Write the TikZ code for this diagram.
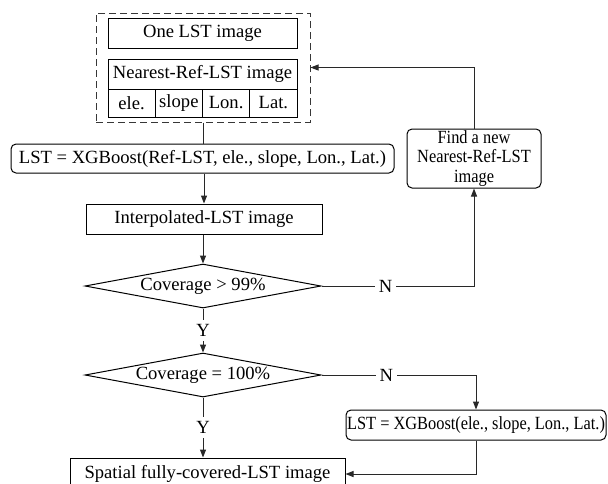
\documentclass[tikz,border=0pt]{standalone}
\usepackage{fontspec}
\setmainfont{Liberation Serif}
\usetikzlibrary{arrows.meta,positioning,shapes.geometric}
\definecolor{flowInk}{RGB}{0,0,0}
\definecolor{frameGrey}{RGB}{55,55,55}
\definecolor{wireGrey}{RGB}{40,40,40}
\newcommand{\narrowtxt}[1]{\scalebox{0.88}[1]{#1}}
\tikzset{
  box/.style={draw=flowInk,line width=.5pt,inner sep=0pt,minimum height=15pt,align=center},
  softbox/.style={box,rounded corners=2.5pt},
  decision/.style={draw=flowInk,line width=.5pt,diamond,inner sep=0pt,aspect=5.4,minimum width=118pt,minimum height=22pt},
  wire/.style={draw=wireGrey,line width=.5pt},
  flow/.style={wire,-{Triangle[length=4pt,width=3pt]}},
  lbl/.style={fill=white,inner sep=2pt},
}

\begin{document}
\begin{tikzpicture}[x=.5pt,y=-.5pt,font=\fontsize{9.3}{9.6}\selectfont]
  \useasboundingbox (0,0) rectangle (608,483);
  \node[draw=frameGrey,dash pattern=on 3.5pt off 2pt,line width=.5pt,minimum width=107pt,minimum height=54.5pt,inner sep=0pt] (frame) at (203,67.5) {};
  \node[box,minimum width=94.5pt] (one) at (202.5,33) {One LST image};
  \node[box,minimum width=94.5pt] (nearest) at (202.5,74) {Nearest-Ref-LST image};
  \foreach \lab [count=\i] in {ele.,slope,Lon.,Lat.}
    \node[box,minimum width=23.625pt,minimum height=14pt] (cell\i) at ({108+47.25*(\i-0.5)},103) {\lab};
  \node[softbox,minimum width=191.5pt,minimum height=14.5pt] (fit) at (202.5,158.5) {LST = XGBoost(Ref-LST, ele., slope, Lon., Lat.)};
  \node[box,minimum width=118pt] (interp) at (204,219) {Interpolated-LST image};
  \node[softbox,minimum width=67pt,minimum height=29.5pt] (newref) at (474,158.5) {\narrowtxt{Find a new}\\\narrowtxt{Nearest-Ref-LST}\\\narrowtxt{image}};
  \node[decision] (cov1) at (203,286) {Coverage > 99\%};
  \node[decision] (cov2) at (203,375) {Coverage = 100\%};
  \node[softbox,minimum width=130pt] (fill) at (476,425) {\narrowtxt{LST = XGBoost(ele., slope, Lon., Lat.)}};
  \node[box,minimum width=137.5pt,minimum height=16pt] (final) at (207.5,474) {Spatial fully-covered-LST image};

  \draw[wire] (frame.south) -- (frame.south |- fit.north);
  \draw[flow] (fit.south -| interp.north) -- (interp.north);
  \draw[flow] (interp.south -| cov1.north) -- (cov1.north);
  \draw[flow] (cov1.south) -- (cov2.north) node[lbl,midway] {Y};
  \draw[flow] (cov1.east) -| (newref.south) node[lbl,pos=0.21] {N};
  \draw[flow] (newref.north) |- (frame.east);
  \draw[flow] (cov2.east) -| (fill.north) node[lbl,pos=0.21] {N};
  \draw[flow] (cov2.south) -- (cov2.south |- final.north) node[lbl,midway] {Y};
  \draw[flow] (fill.south) |- (final.east);
\end{tikzpicture}
\end{document}
